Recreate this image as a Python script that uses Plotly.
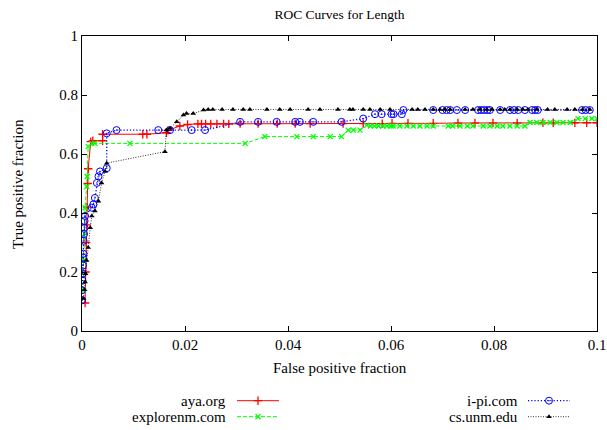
import plotly.graph_objects as go

# ---------------- data ----------------
aya_x = [0.0006, 0.0007, 0.0008, 0.0009, 0.0010, 0.0011, 0.0012, 0.0017, 0.0021, 0.0040, 0.0040,
         0.0118, 0.0126, 0.0164, 0.0167, 0.0190, 0.0205, 0.0225, 0.0232, 0.0240, 0.0250, 0.0262,
         0.0275, 0.0285, 0.0307, 0.0342, 0.0379, 0.0414, 0.0443, 0.0507, 0.0546, 0.0583, 0.0602,
         0.0633, 0.0682, 0.0730, 0.0763, 0.0798, 0.0845, 0.0895, 0.0915, 0.0957, 0.0980, 0.1000]
aya_y = [0.095, 0.20, 0.30, 0.36, 0.42, 0.50, 0.55, 0.642, 0.645, 0.645, 0.667,
         0.667, 0.667, 0.672, 0.680, 0.695, 0.700, 0.702, 0.702, 0.702, 0.702, 0.702,
         0.702, 0.702, 0.703, 0.703, 0.703, 0.703, 0.703, 0.703, 0.703, 0.703, 0.704,
         0.704, 0.704, 0.705, 0.705, 0.705, 0.705, 0.706, 0.706, 0.706, 0.706, 0.706]

ipi_x = [0.0000, 0.0000, 0.0001, 0.0001, 0.0002, 0.0002, 0.0003, 0.0003, 0.0004, 0.0005, 0.0005, 0.0006,
         0.0019, 0.0022, 0.0025, 0.0029, 0.0032, 0.0035, 0.0048, 0.0048, 0.0067, 0.0148, 0.0171,
         0.0213, 0.0239, 0.0307, 0.0342, 0.0378, 0.0414, 0.0423, 0.0449, 0.0504, 0.0546, 0.0569,
         0.0582, 0.0601, 0.0605, 0.0621, 0.0624, 0.0682, 0.0700, 0.0708, 0.0715, 0.0728, 0.0744,
         0.0769, 0.0775, 0.0781, 0.0787, 0.0792, 0.0812, 0.0831, 0.0839, 0.0847, 0.0860, 0.0874,
         0.0880, 0.0885, 0.0971, 0.0978, 0.0986]
ipi_y = [0.104, 0.138, 0.171, 0.195, 0.222, 0.249, 0.262, 0.306, 0.329, 0.350, 0.373, 0.390,
         0.418, 0.429, 0.451, 0.502, 0.524, 0.541, 0.552, 0.670, 0.681, 0.681, 0.681,
         0.681, 0.681, 0.709, 0.709, 0.709, 0.709, 0.709, 0.709, 0.709, 0.720, 0.735,
         0.735, 0.735, 0.735, 0.735, 0.749, 0.749, 0.749, 0.749, 0.749, 0.749, 0.749,
         0.749, 0.749, 0.749, 0.749, 0.749, 0.749, 0.749, 0.749, 0.749, 0.749, 0.749,
         0.749, 0.749, 0.749, 0.749, 0.749]

explore_x = [0.0003, 0.0003, 0.0005, 0.0006, 0.0009, 0.0010, 0.0012, 0.0019, 0.0025, 0.0093, 0.0317,
             0.0355, 0.0417, 0.0449, 0.0482, 0.0504, 0.0517, 0.0527, 0.0540, 0.0553, 0.0560, 0.0568,
             0.0576, 0.0584, 0.0592, 0.0600, 0.0604, 0.0617, 0.0631, 0.0643, 0.0656, 0.0670, 0.0682,
             0.0711, 0.0720, 0.0734, 0.0748, 0.0759, 0.0779, 0.0792, 0.0806, 0.0817, 0.0831, 0.0845,
             0.0860, 0.0870, 0.0883, 0.0895, 0.0909, 0.0922, 0.0934, 0.0948, 0.0963, 0.0977, 0.0990,
             0.1000]
explore_y = [0.138, 0.239, 0.330, 0.418, 0.490, 0.524, 0.625, 0.636, 0.636, 0.636, 0.636,
             0.659, 0.659, 0.659, 0.659, 0.659, 0.681, 0.681, 0.681, 0.698, 0.695, 0.695,
             0.695, 0.695, 0.695, 0.695, 0.695, 0.695, 0.695, 0.695, 0.695, 0.695, 0.695,
             0.695, 0.695, 0.695, 0.695, 0.695, 0.695, 0.695, 0.695, 0.695, 0.695, 0.695,
             0.695, 0.707, 0.707, 0.707, 0.707, 0.707, 0.707, 0.707, 0.720, 0.720, 0.720,
             0.720]

cs_x = [0.0003, 0.0005, 0.0006, 0.0007, 0.0009, 0.0012, 0.0016, 0.0019, 0.0025, 0.0032, 0.0038,
        0.0045, 0.0048, 0.0161, 0.0164, 0.0171, 0.0184, 0.0197, 0.0203, 0.0216, 0.0236, 0.0245,
        0.0254, 0.0272, 0.0293, 0.0313, 0.0326, 0.0359, 0.0384, 0.0404, 0.0439, 0.0462, 0.0497,
        0.0520, 0.0526, 0.0546, 0.0559, 0.0579, 0.0598, 0.0641, 0.0652, 0.0666, 0.0682, 0.0695,
        0.0705, 0.0715, 0.0744, 0.0759, 0.0773, 0.0786, 0.0796, 0.0812, 0.0821, 0.0831, 0.0845,
        0.0856, 0.0866, 0.0883, 0.0904, 0.0918, 0.0942, 0.0957, 0.0972, 0.0986]
cs_y = [0.110, 0.140, 0.166, 0.194, 0.239, 0.283, 0.350, 0.390, 0.407, 0.440, 0.502,
        0.541, 0.569, 0.608, 0.681, 0.687, 0.709, 0.732, 0.737, 0.737, 0.749, 0.751,
        0.751, 0.751, 0.751, 0.751, 0.751, 0.751, 0.751, 0.751, 0.751, 0.751, 0.751,
        0.751, 0.751, 0.751, 0.751, 0.751, 0.751, 0.751, 0.751, 0.751, 0.751, 0.751,
        0.751, 0.751, 0.751, 0.751, 0.751, 0.751, 0.751, 0.751, 0.751, 0.751, 0.751,
        0.751, 0.751, 0.751, 0.751, 0.751, 0.751, 0.751, 0.751, 0.751]

x_ticks = [0, 0.02, 0.04, 0.06, 0.08, 0.1]
x_tick_labels = ["0", "0.02", "0.04", "0.06", "0.08", "0.1"]
y_ticks = [0, 0.2, 0.4, 0.6, 0.8, 1]
y_tick_labels = ["0", "0.2", "0.4", "0.6", "0.8", "1"]

series_names = ["aya.org", "explorenm.com", "i-pi.com", "cs.unm.edu"]

# ---------------- styling ----------------
FONT = "'Liberation Serif', 'Times New Roman', Times, serif"
FS = 15          # tick labels, axis titles, legend
FS_TITLE = 13.5
styles = {
    "aya.org": dict(color="#ff0000", dash="solid", width=1, symbol="cross-thin-open", size=6, mlw=1.3),
    "explorenm.com": dict(color="#00ff00", dash="4px,2px", width=1, symbol="x-thin-open", size=5, mlw=1.3),
    "i-pi.com": dict(color="#0000ff", dash="1.2px,2px", width=1.3, symbol="circle-open-dot", size=7, mlw=1),
    "cs.unm.edu": dict(color="#000000", dash="1px,1.5px", width=0.8, symbol="triangle-up", size=5, mlw=0),
}
data = {
    "aya.org": (aya_x, aya_y),
    "explorenm.com": (explore_x, explore_y),
    "i-pi.com": (ipi_x, ipi_y),
    "cs.unm.edu": (cs_x, cs_y),
}

W, H = 607, 430
PL, PR, PT, PB = 82, 597, 36, 331          # plot box in page pixels
ML, MR, MT, MB = PL, W - PR, PT, 0
paper_h = H - MT - MB
paper_w = W - ML - MR


def py_to_paper(py):
    return (H - MB - py) / paper_h


main_domain_bottom = py_to_paper(PB)
leg_top_px, leg_bot_px = 390, 425
leg_domain = [max(0.0, py_to_paper(leg_bot_px)), py_to_paper(leg_top_px)]

fig = go.Figure()

draw_order = ["aya.org", "explorenm.com", "i-pi.com", "cs.unm.edu"]
for name in draw_order:
    s = styles[name]
    xs, ys = data[name]
    mk = dict(symbol=s["symbol"], size=s["size"], color=s["color"],
              line=dict(color=s["color"], width=s["mlw"]))
    fig.add_trace(go.Scatter(x=xs, y=ys, mode="lines+markers", name=name, showlegend=False,
                             line=dict(color=s["color"], dash=s["dash"], width=s["width"]),
                             marker=mk, cliponaxis=True))

# custom legend (text on the left, sample on the right), in page-pixel space on a helper axis
legend_layout = [
    ("aya.org", 228, 237, 279, 400.7),
    ("explorenm.com", 228, 237, 279, 416.7),
    ("i-pi.com", 520, 528, 570, 400.7),
    ("cs.unm.edu", 520, 528, 570, 416.7),
]
for name, tx, x0, x1, ypx in legend_layout:
    s = styles[name]
    fig.add_trace(go.Scatter(x=[x0, x1], y=[ypx, ypx], mode="lines", xaxis="x2", yaxis="y2",
                             showlegend=False, hoverinfo="skip",
                             line=dict(color=s["color"], dash=s["dash"], width=s["width"])))
    fig.add_trace(go.Scatter(x=[(x0 + x1) / 2], y=[ypx], mode="markers", xaxis="x2", yaxis="y2",
                             showlegend=False, hoverinfo="skip",
                             marker=dict(symbol=s["symbol"], size=s["size"], color=s["color"],
                                         line=dict(color=s["color"], width=s["mlw"]))))
    fig.add_annotation(x=tx, y=ypx, xref="x2", yref="y2", text=name, showarrow=False,
                       xanchor="right", yanchor="middle",
                       font=dict(family=FONT, size=FS, color="black"))

axis_common = dict(showgrid=False, zeroline=False, showline=True, linecolor="black",
                   linewidth=1, mirror="ticks", ticks="inside", ticklen=5, tickcolor="black",
                   ticklabeloverflow="allow",
                   tickfont=dict(family=FONT, size=FS, color="black"))

fig.update_layout(
    width=W, height=H,
    margin=dict(l=ML, r=MR, t=MT, b=MB, autoexpand=False),
    paper_bgcolor="white", plot_bgcolor="white",
    font=dict(family=FONT, size=FS, color="black"),
    title=dict(text="ROC Curves for Length", x=((PL + PR) / 2) / W, xanchor="center",
               y=1 - 14 / H, yanchor="middle", font=dict(family=FONT, size=FS_TITLE, color="black")),
    xaxis=dict(range=[0, 0.1], tickvals=x_ticks, ticktext=x_tick_labels,
               domain=[0, 1], anchor="y", **axis_common),
    yaxis=dict(range=[0, 1], tickvals=y_ticks, ticktext=y_tick_labels,
               domain=[main_domain_bottom, 1], anchor="x", **axis_common),
    xaxis2=dict(range=[PL, PR], domain=[0, 1], anchor="y2", visible=False, fixedrange=True),
    yaxis2=dict(range=[leg_bot_px, leg_top_px], domain=leg_domain, anchor="x2", visible=False,
                fixedrange=True),
    showlegend=False,
)

# axis titles
fig.add_annotation(x=((PL + PR) / 2 - PL) / paper_w, y=py_to_paper(368), xref="paper", yref="paper",
                   text="False positive fraction", showarrow=False, xanchor="center", yanchor="middle",
                   font=dict(family=FONT, size=FS, color="black"))
fig.add_annotation(x=(18 - PL) / paper_w, y=py_to_paper(184), xref="paper", yref="paper",
                   text="True positive fraction", showarrow=False, textangle=-90,
                   xanchor="center", yanchor="middle",
                   font=dict(family=FONT, size=FS, color="black"))

fig.write_html(
    "out.html",
    config={"displayModeBar": False},
    post_script="document.body.style.margin='0';document.body.style.overflow='hidden';",
)
